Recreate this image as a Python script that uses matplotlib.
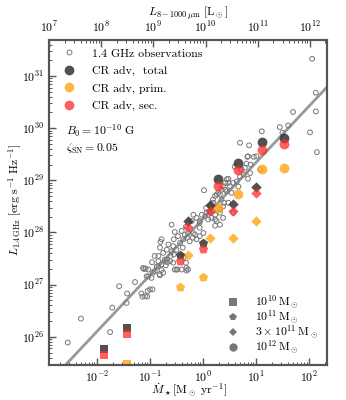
import matplotlib
matplotlib.use("Agg")
import matplotlib.pyplot as plt
import numpy as np
from matplotlib.lines import Line2D

plt.rcParams['font.family'] = 'serif'
plt.rcParams['font.serif'] = ['cmr10']
plt.rcParams['mathtext.fontset'] = 'cm'
plt.rcParams['axes.unicode_minus'] = False
plt.rcParams['axes.formatter.use_mathtext'] = True
plt.rcParams['font.size'] = 8.5

# observations: log10 SFR [Msun/yr], log10 L_1.4GHz [erg/s/Hz]
obs_logsfr = [
    -2.55, -2.30, -1.75, -1.71, -1.58, -1.44, -1.43, -1.28, -1.16, -1.14,
    -1.05, -1.04, -0.95, -1.06, -1.03, -1.11, -1.08, -0.94, -0.96, -0.82,
    -0.75, -0.87, -0.78, -0.84, -0.72, -0.62, -0.56, -0.50, -0.40, -0.31,
    -0.31, -0.91, -0.70, -0.67, -0.61, -0.55, -0.36, -0.32, -1.13, -1.03,
    -0.97, -0.91, -0.81, -0.84, -0.78, -0.68, -0.84, -0.75, -0.81, -0.78,
    -0.80, -0.68, -0.65, -0.59, -0.56, -0.50, -0.55, -0.47, -0.43, -0.37,
    -0.38, -0.34, -0.28, -0.30, -0.25, -0.19, -0.15, -0.12, -0.06, 0.01,
    -0.06, -0.18, -0.21, -0.12, -0.06, -0.02, 0.04, 0.07, 0.10, 0.16,
    0.23, 0.26, 0.23, 0.29, 0.19, 0.32, 0.35, 0.38, 0.42, 0.45,
    0.48, 0.45, 0.40, 0.32, 0.13, 0.06, 0.02, -0.59, -0.53, -0.40,
    -0.32, -0.28, -0.53, -0.48, 0.85, 0.96, 0.82, 0.90, 0.60, 0.73,
    0.79, 0.89, 0.77, 0.85, 0.70, 1.08, 0.48, 0.57, 0.51, 0.64,
    0.67, 0.42, 0.54, 0.26, 0.35, 0.48, 0.38, 0.19, 0.19, 0.32,
    0.38, 0.23, 0.32, 0.23, 0.57, 0.70, 0.87, 0.84, 1.01, 2.15,
    2.02, 2.06, 2.13, 2.13, 1.70, 1.61, 1.45, 1.11, 1.50, -1.09,
    -1.00, -0.18, -0.06,
]
obs_loglum = [
    25.89, 26.35, 26.09, 26.56, 26.97, 26.65, 26.83, 27.05, 26.83, 26.77,
    26.77, 26.88, 26.91, 27.16, 27.29, 27.30, 27.31, 27.23, 27.43, 27.20,
    27.23, 27.35, 27.39, 27.45, 27.48, 27.45, 27.42, 27.29, 27.29, 27.32,
    27.27, 27.55, 27.37, 27.43, 27.55, 27.58, 27.53, 27.42, 27.32, 27.16,
    27.13, 27.26, 27.18, 27.35, 27.28, 27.48, 27.55, 27.61, 27.71, 27.87,
    27.82, 27.67, 27.77, 27.64, 27.74, 27.67, 27.87, 27.93, 27.80, 27.87,
    27.71, 27.96, 27.99, 27.90, 27.83, 27.90, 27.96, 27.87, 27.93, 27.99,
    28.09, 28.34, 28.22, 28.28, 28.22, 28.34, 28.31, 28.38, 28.25, 28.28,
    28.34, 28.22, 28.70, 28.76, 28.63, 28.73, 28.82, 28.89, 28.95, 29.02,
    28.95, 28.79, 28.57, 28.44, 28.38, 28.47, 28.81, 28.15, 28.01, 28.03,
    28.11, 27.29, 27.29, 27.29, 29.46, 29.45, 29.32, 29.30, 29.26, 29.21,
    29.24, 29.14, 29.11, 29.03, 29.07, 29.21, 29.03, 28.95, 28.89, 28.98,
    28.88, 28.82, 28.76, 28.73, 28.63, 28.57, 28.50, 28.57, 28.41, 28.38,
    28.28, 28.25, 28.15, 28.13, 28.38, 29.72, 29.67, 29.45, 29.46, 29.54,
    29.92, 31.33, 30.68, 30.32, 30.31, 30.05, 30.02, 29.94, 29.91, 26.78,
    26.91, 27.99, 28.19,
]

# fit line
fit_slope = 1.08
fit_norm = 28.26

# models: (log SFR, log L total, log L prim, log L sec)
sq_logsfr = [-1.86, -1.44]
sq_tot = [25.76, 26.16]
sq_prim = [25.10, 25.47]
sq_sec = [25.65, 26.05]

pent_logsfr = [-0.43, 0.00]
pent_tot = [27.57, 27.80]
pent_prim = [26.95, 27.15]
pent_sec = [27.45, 27.68]

dia_logsfr = [-0.28, 0.13, 0.57, 1.01]
dia_tot = [28.22, 28.52, 28.54, 28.88]
dia_prim = [27.56, 27.90, 27.90, 28.22]
dia_sec = [28.11, 28.41, 28.41, 28.75]

circ_logsfr = [0.29, 0.67, 1.11, 1.53]
circ_tot = [29.03, 29.34, 29.73, 29.82]
circ_prim = [28.47, 28.74, 29.21, 29.24]
circ_sec = [28.90, 29.19, 29.59, 29.69]

c_tot = '#333333'
c_prim = '#ffa514'
c_sec = '#ff2a2a'
c_obs = '#777777'
c_frame = '#555555'

fig = plt.figure(figsize=(3.46, 4.0), dpi=100)
ax = fig.add_axes([0.142, 0.0875, 0.803, 0.8125])
ax.set_xscale('log')
ax.set_yscale('log')
ax.set_xlim(10**-2.9, 10**2.34)
ax.set_ylim(10**25.46, 10**31.69)

xs = np.array([10**-3.0, 10**2.5])
ax.plot(xs, 10**fit_norm * xs**fit_slope, color='#999999', lw=2, zorder=2)

ax.scatter(10**np.array(obs_logsfr), 10**np.array(obs_loglum), s=12,
           facecolor='none', edgecolor=c_obs, lw=0.7, zorder=3)

groups = [
    ('s', 40, sq_logsfr, sq_tot, sq_prim, sq_sec),
    ('p', 48, pent_logsfr, pent_tot, pent_prim, pent_sec),
    ('D', 28, dia_logsfr, dia_tot, dia_prim, dia_sec),
    ('o', 50, circ_logsfr, circ_tot, circ_prim, circ_sec),
]
for mk, size, lx, tot, prim, sec in groups:
    x = 10**np.array(lx)
    ax.scatter(x, 10**np.array(prim), marker=mk, s=size, color=c_prim,
               alpha=0.8, lw=0, zorder=4)
    ax.scatter(x, 10**np.array(tot), marker=mk, s=size, color=c_tot,
               alpha=0.85, lw=0, zorder=5)
    ax.scatter(x, 10**np.array(sec), marker=mk, s=size, color=c_sec,
               alpha=0.75, lw=0, zorder=6)

for side in ['left', 'right', 'top', 'bottom']:
    ax.spines[side].set_color(c_frame)
    ax.spines[side].set_linewidth(1.5)
ax.tick_params(which='both', direction='in', top=False, right=False,
               color=c_frame, labelsize=8.5)
ax.tick_params(which='major', length=5, width=1)
ax.tick_params(which='minor', length=2.5, width=0.7)
ax.xaxis.set_minor_locator(matplotlib.ticker.LogLocator(subs=np.arange(2, 10)))
ax.yaxis.set_minor_locator(matplotlib.ticker.LogLocator(subs=np.arange(2, 10)))
ax.xaxis.set_minor_formatter(matplotlib.ticker.NullFormatter())
ax.yaxis.set_minor_formatter(matplotlib.ticker.NullFormatter())

ax2 = ax.twiny()
ax2.set_xscale('log')
ax2.set_xlim(1e7, 10**12.33)
ax2.tick_params(which='both', direction='in', color=c_frame, labelsize=8.5)
ax2.tick_params(which='major', length=5, width=1)
ax2.tick_params(which='minor', length=2.5, width=0.7)
ax2.xaxis.set_minor_locator(matplotlib.ticker.LogLocator(subs=np.arange(2, 10)))
ax2.xaxis.set_minor_formatter(matplotlib.ticker.NullFormatter())
for side in ['left', 'right', 'top', 'bottom']:
    ax2.spines[side].set_color(c_frame)
    ax2.spines[side].set_linewidth(1.5)

# axis labels placed in figure coordinates
fig.text(0.545, 0.025, r'$\dot{M}_\star [\mathrm{M}_\odot\ \mathrm{yr}^{-1}]$',
         ha='center', va='center', fontsize=8.5)
fig.text(0.545, 0.966, r'$L_{8-1000\,\mu\mathrm{m}}\ [\mathrm{L}_\odot]$',
         ha='center', va='center', fontsize=8.5)
fig.text(0.045, 0.50,
         r'$L_{1.4\,\mathrm{GHz}}\ [\mathrm{erg\ s}^{-1}\ \mathrm{Hz}^{-1}]$',
         ha='center', va='center', rotation=90, fontsize=8.5)

h1 = [
    Line2D([], [], ls='', marker='o', ms=3.5, mfc='none', mec=c_obs, mew=0.7),
    Line2D([], [], ls='', marker='o', ms=7, color=c_tot, alpha=0.85, mew=0),
    Line2D([], [], ls='', marker='o', ms=7, color=c_prim, alpha=0.8, mew=0),
    Line2D([], [], ls='', marker='o', ms=7, color=c_sec, alpha=0.75, mew=0),
]
l1 = ax.legend(h1, ['1.4 GHz observations', 'CR adv,  total', 'CR adv, prim.',
                    'CR adv, sec.'],
               loc='upper left', frameon=False, fontsize=8.5,
               handletextpad=0.9, labelspacing=0.6, borderaxespad=0.3)
ax.add_artist(l1)

h2 = [
    Line2D([], [], ls='', marker='s', ms=5.5, color='#777777', mew=0),
    Line2D([], [], ls='', marker='p', ms=6, color='#777777', mew=0),
    Line2D([], [], ls='', marker='D', ms=4.5, color='#777777', mew=0),
    Line2D([], [], ls='', marker='o', ms=6, color='#777777', mew=0),
]
ax.legend(h2, [r'$10^{10}\,\mathrm{M}_\odot$', r'$10^{11}\,\mathrm{M}_\odot$',
               r'$3\times10^{11}\,\mathrm{M}_\odot$', r'$10^{12}\,\mathrm{M}_\odot$'],
          loc='lower right', frameon=False, fontsize=8.5,
          handletextpad=0.9, labelspacing=-0.2, borderaxespad=0.35)

ax.text(0.06, 0.71, r'$B_0 = 10^{-10}\ \mathrm{G}$', transform=ax.transAxes,
        fontsize=8.5)
ax.text(0.06, 0.655, r'$\zeta_\mathrm{SN} = 0.05$', transform=ax.transAxes,
        fontsize=8.5)

fig.savefig('out.png', dpi=100)
